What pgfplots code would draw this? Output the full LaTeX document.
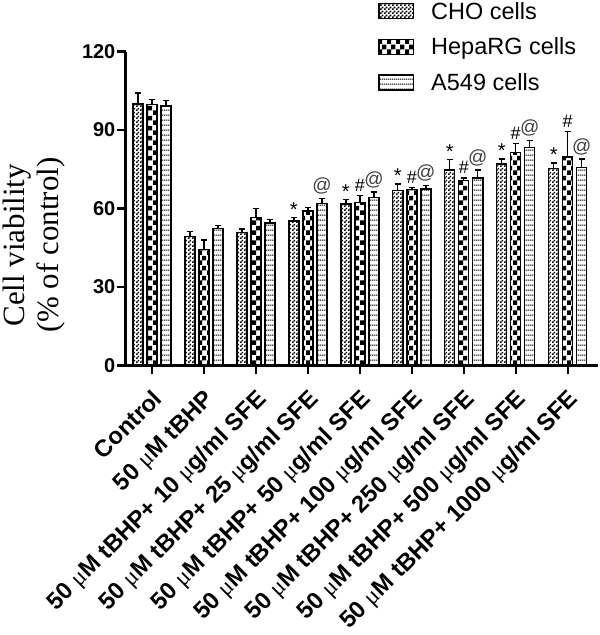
\documentclass[border=0pt]{standalone}
\usepackage{fontspec}
\setmainfont{Liberation Sans}
\newfontfamily\serif{Liberation Serif}
\usepackage{pgfplots}
\pgfplotsset{compat=1.18}
\usepackage{pgfplotstable}
\usetikzlibrary{patterns}

\pgfdeclarepatternformonly{finechecker}{\pgfpointorigin}{\pgfqpoint{4bp}{4bp}}{\pgfqpoint{4bp}{4bp}}{%
  \pgfpathrectangle{\pgfpointorigin}{\pgfqpoint{2bp}{2bp}}%
  \pgfpathrectangle{\pgfqpoint{2bp}{2bp}}{\pgfqpoint{2bp}{2bp}}%
  \pgfusepath{fill}}
\pgfdeclarepatternformonly{coarsechecker}{\pgfpointorigin}{\pgfqpoint{9bp}{10bp}}{\pgfqpoint{9bp}{10bp}}{%
  \pgfpathrectangle{\pgfpointorigin}{\pgfqpoint{4.5bp}{5bp}}%
  \pgfpathrectangle{\pgfqpoint{4.5bp}{5bp}}{\pgfqpoint{4.5bp}{5bp}}%
  \pgfusepath{fill}}
\pgfdeclarepatternformonly{hlines}{\pgfqpoint{0bp}{-1bp}}{\pgfqpoint{2bp}{4bp}}{\pgfqpoint{2bp}{5bp}}{%
  \pgfpathrectangle{\pgfqpoint{0bp}{-0.6bp}}{\pgfqpoint{2bp}{1.2bp}}%
  \pgfusepath{fill}}

\pgfplotstableread{
x  cho   choe  hep   hepe  a549  a549e
0  100.0 4.2   99.7  2.0   99.2  2.0
1  49.4  1.7   44.4  3.6   52.4  1.2
2  50.8  1.3   56.6  3.4   54.5  1.3
3  55.2  1.4   59.1  1.3   62.0  1.9
4  61.7  1.8   62.2  2.7   64.3  2.0
5  66.8  2.5   67.3  0.8   67.4  1.5
6  74.7  4.1   70.6  1.0   71.6  3.1
7  77.0  2.0   81.3  3.6   83.3  2.8
8  75.4  2.0   79.7  9.7   75.7  3.2
}\datatable

\pgfplotstableread{
x     y
2.73  56.6
3.73  63.5
4.73  69.3
5.73  78.8
6.73  79.0
7.73  77.4
}\startable
\pgfplotstableread{
x     y
4.00  64.9
5.00  68.1
6.00  71.6
7.00  84.9
8.00  89.4
}\hashtable
\pgfplotstableread{
x     y
3.27  63.9
4.27  66.3
5.27  68.9
6.27  74.7
7.27  86.1
8.27  78.9
}\attable

\newcommand{\mmu}{{\serif\mdseries μ}}

\begin{document}
\begin{tikzpicture}
\begin{axis}[
  scale only axis,
  width=471bp, height=313bp,
  xmin=-0.51, xmax=8.58,
  ymin=0, ymax=120,
  axis x line*=bottom, axis y line*=left,
  axis line style={line width=2.4bp},
  ytick={0,30,60,90,120},
  xtick={0,...,8},
  xticklabels={Control,
    50 \mmu M tBHP,
    50 \mmu M tBHP+ 10 \mmu g/ml SFE,
    50 \mmu M tBHP+ 25 \mmu g/ml SFE,
    50 \mmu M tBHP+ 50 \mmu g/ml SFE,
    50 \mmu M tBHP+ 100 \mmu g/ml SFE,
    50 \mmu M tBHP+ 250 \mmu g/ml SFE,
    50 \mmu M tBHP+ 500 \mmu g/ml SFE,
    50 \mmu M tBHP+ 1000 \mmu g/ml SFE},
  tick align=outside,
  major tick length=9bp,
  tick style={line width=2.2bp, black},
  /pgf/number format/assume math mode=true,
  yticklabel style={font=\bfseries\fontsize{20}{22}\selectfont, inner sep=1bp},
  xticklabel style={font=\bfseries\fontsize{23.8}{26}\selectfont, rotate=45, anchor=north east, inner sep=1bp, xshift=-9bp, yshift=-8bp},
  ylabel={Cell viability\\(\% of control)},
  ylabel style={font=\serif\fontsize{31}{34}\selectfont, align=center, at={(axis description cs:-0.12,0.383)}, anchor=south},
  legend style={at={(axis description cs:0.535,1.165)}, anchor=north west, draw=none, fill=none,
    font=\fontsize{23.5}{26}\selectfont, inner sep=0pt, row sep=13bp},
  legend cell align=left,
  legend image code/.code={\draw[#1, line width=1.4bp] (0bp,-7.5bp) rectangle (34bp,7.5bp); \path[draw=none, fill=none, pattern=none] (0bp,0bp) -- (50bp,0bp);},
  clip=false,
]
\addplot[ybar, bar width=10bp, bar shift=0bp, draw=black, line width=1.4bp, pattern=finechecker,
  error bars/.cd, y dir=plus, y explicit, error bar style={line width=1.4bp, black},
  error mark options={rotate=90, mark size=3bp, line width=1.4bp, black}]
  table[x expr=\thisrow{x}-0.27, y=cho, y error=choe] {\datatable};
\addlegendentry{CHO cells}
\addplot[ybar, bar width=10bp, bar shift=0bp, draw=black, line width=1.4bp, pattern=coarsechecker,
  error bars/.cd, y dir=plus, y explicit, error bar style={line width=1.4bp, black},
  error mark options={rotate=90, mark size=3bp, line width=1.4bp, black}]
  table[x=x, y=hep, y error=hepe] {\datatable};
\addlegendentry{HepaRG cells}
\addplot[ybar, bar width=10bp, bar shift=0bp, draw=black, line width=1.4bp, pattern=hlines,
  error bars/.cd, y dir=plus, y explicit, error bar style={line width=1.4bp, black},
  error mark options={rotate=90, mark size=3bp, line width=1.4bp, black}]
  table[x expr=\thisrow{x}+0.27, y=a549, y error=a549e] {\datatable};
\addlegendentry{A549 cells}

\addplot[forget plot, draw=none, mark=none, nodes near coords={*},
  nodes near coords style={anchor=south, font=\fontsize{20}{20}\selectfont, inner sep=1bp, yshift=0bp}]
  table[x=x, y=y] {\startable};
\addplot[forget plot, draw=none, mark=none, nodes near coords={\#},
  nodes near coords style={anchor=south, font=\fontsize{18}{18}\selectfont, inner sep=1bp, yshift=3bp}]
  table[x=x, y=y] {\hashtable};
\addplot[forget plot, draw=none, mark=none, nodes near coords={@},
  nodes near coords style={anchor=south, font=\fontsize{19}{19}\selectfont, inner sep=1bp, yshift=3bp, text=black!75}]
  table[x=x, y=y] {\attable};
\end{axis}
\end{tikzpicture}
\end{document}
